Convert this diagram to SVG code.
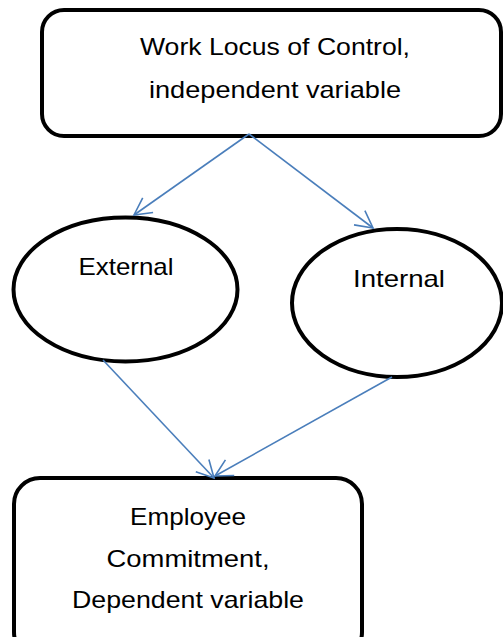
<svg xmlns="http://www.w3.org/2000/svg" width="503" height="637" viewBox="0 0 503 637">
<style>
.node{fill:#fff;stroke:#000;stroke-width:4}
.lbl{font-family:"Liberation Sans",Arial,sans-serif;font-size:24px;fill:#000;text-anchor:middle}
.conn{stroke:#4A7EBB;stroke-width:1.6;fill:none;marker-end:url(#arr)}
</style>
<defs>
<marker id="arr" viewBox="0 0 22 22" refX="20" refY="11" markerWidth="22" markerHeight="22" markerUnits="userSpaceOnUse" orient="auto">
<path d="M3,2 L20,11 L3,20" fill="none" stroke="#4A7EBB" stroke-width="1.6"/>
</marker>
</defs>
<rect width="503" height="637" fill="#fff"/>
<g id="wlc">
<rect class="node" x="42" y="10" width="459" height="126" rx="22"/>
<text class="lbl" x="275" y="55" textLength="270" lengthAdjust="spacingAndGlyphs">Work Locus of Control,</text>
<text class="lbl" x="275" y="98" textLength="252" lengthAdjust="spacingAndGlyphs">independent variable</text>
</g>
<g id="external">
<ellipse class="node" cx="125.5" cy="289.5" rx="112" ry="72"/>
<text class="lbl" x="126" y="275" textLength="95" lengthAdjust="spacingAndGlyphs">External</text>
</g>
<g id="internal">
<ellipse class="node" cx="397" cy="303" rx="105" ry="74"/>
<text class="lbl" x="399" y="287" textLength="92" lengthAdjust="spacingAndGlyphs">Internal</text>
</g>
<g id="commitment">
<rect class="node" x="14" y="478" width="348" height="180" rx="26"/>
<text class="lbl" x="188" y="525" textLength="116" lengthAdjust="spacingAndGlyphs">Employee</text>
<text class="lbl" x="188" y="567" textLength="163" lengthAdjust="spacingAndGlyphs">Commitment,</text>
<text class="lbl" x="188" y="608" textLength="232" lengthAdjust="spacingAndGlyphs">Dependent variable</text>
</g>
<g id="connectors">
<path class="conn" d="M249,134 L134,215"/>
<path class="conn" d="M249,134 L373,228"/>
<path class="conn" d="M103,360 L214,478"/>
<path class="conn" d="M392,377 L215,476"/>
</g>
</svg>
